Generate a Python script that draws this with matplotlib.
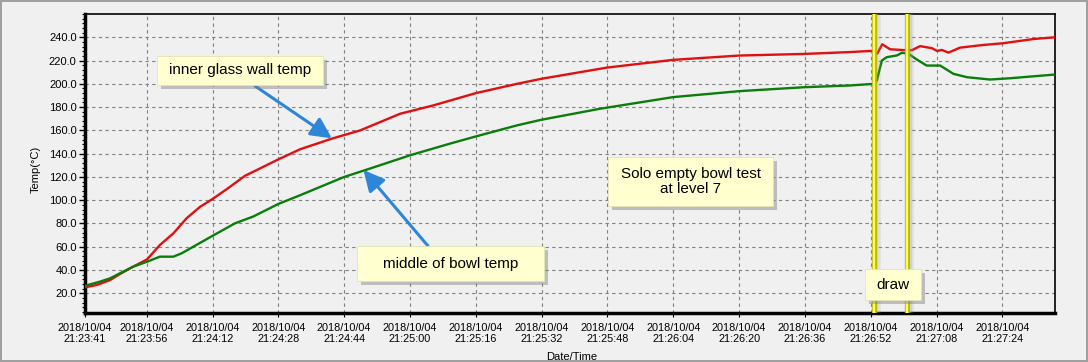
import datetime as dt

import matplotlib
matplotlib.use("Agg")
import matplotlib.pyplot as plt
import matplotlib.patheffects as pe
from matplotlib.patches import Rectangle, FancyArrowPatch
from matplotlib.ticker import FixedLocator, MultipleLocator

plt.rcParams['font.family'] = ['Liberation Sans', 'DejaVu Sans']

# seconds after 2018/10/04 21:23:41
start = dt.datetime(2018, 10, 4, 21, 23, 41)

glass_t = [0.0, 2.8, 6.1, 8.5, 11.7, 15.1, 18.2, 21.5, 24.7, 28.0, 30.9, 34.5, 38.9,
           43.4, 47.0, 52.3, 60.0, 66.9, 76.6, 84.6, 95.0, 105.0, 110.9, 122.8, 127.0,
           143.0, 159.0, 174.9, 186.0, 191.3, 192.6, 193.8, 195.7, 199.4, 201.0, 203.0,
           205.9, 207.1, 208.3, 209.9, 212.7, 218.4, 223.0, 230.6, 235.8]
glass_temp = [25.2, 27.1, 31.4, 36.6, 42.9, 49.2, 61.5, 71.6, 84.5, 94.4, 100.8, 109.6,
              121.0, 128.8, 135.1, 143.8, 152.9, 160.0, 174.3, 181.4, 192.0, 200.0, 204.3,
              211.5, 214.0, 220.6, 224.3, 225.7, 227.3, 228.3, 226.0, 234.0, 229.7, 228.9,
              228.9, 232.4, 230.6, 228.3, 229.1, 226.8, 231.1, 233.4, 234.8, 238.5, 240.0]

bowl_t = [0.0, 3.6, 6.1, 8.5, 11.7, 15.1, 18.2, 21.5, 23.5, 26.3, 30.9, 36.5, 40.9,
          47.0, 52.3, 63.0, 68.5, 79.0, 88.7, 95.0, 105.0, 110.9, 125.2, 143.0, 159.0,
          174.9, 186.0, 191.8, 192.5, 193.7, 194.9, 197.4, 198.6, 200.2, 202.2, 204.6,
          207.9, 211.1, 214.4, 220.0, 224.9, 235.8]
bowl_temp = [26.5, 30.0, 32.9, 37.2, 42.9, 47.2, 51.5, 51.5, 54.4, 60.0, 69.2, 80.2, 86.0,
             96.8, 104.3, 120.0, 126.3, 138.6, 148.6, 154.8, 164.3, 169.1, 178.6, 188.6,
             193.7, 197.1, 198.6, 200.0, 203.0, 220.0, 222.9, 224.4, 226.7, 225.8, 220.9,
             215.7, 215.7, 208.6, 205.7, 203.7, 204.8, 208.0]

tick_secs = [0, 15, 31, 47, 63, 79, 95, 111, 127, 143, 159, 175, 191, 207, 223]
tick_labels = [(start + dt.timedelta(seconds=s)).strftime('%Y/%m/%d\n%H:%M:%S') for s in tick_secs]
y_ticks = [20, 40, 60, 80, 100, 120, 140, 160, 180, 200, 220, 240]
draw_marks = [191.8, 199.9]

bg = '#f0f0f0'
fig = plt.figure(figsize=(10.88, 3.62), dpi=100, facecolor=bg)
fig.patch.set_edgecolor('#a0a0a0')
fig.patch.set_linewidth(1.5)
ax = fig.add_axes([85 / 1088, 1 - 313 / 362, 970 / 1088, 299 / 362])
ax.set_facecolor(bg)

ax.plot(glass_t, glass_temp, color='#e01010', lw=1.7, zorder=3)
ax.plot(bowl_t, bowl_temp, color='#0a7d0a', lw=1.7, zorder=3)

# yellow cursor lines with a soft shadow
for t in draw_marks:
    ax.axvline(t + 0.5, color='#a0a0a0', lw=7, alpha=0.18, zorder=4)
    ax.axvline(t + 0.3, color='#a0a0a0', lw=4.5, alpha=0.25, zorder=4)
    ax.axvline(t, color='#b8b400', lw=3.4, zorder=5)
    ax.axvline(t, color='#ffff50', lw=1.7, zorder=6)

ax.set_xlim(0, 235.8)
ax.set_ylim(3.1, 260)
ax.xaxis.set_major_locator(FixedLocator(tick_secs))
ax.set_xticklabels(tick_labels, fontsize=7.8)
ax.set_yticks(y_ticks)
ax.set_yticklabels(['%.1f' % v for v in y_ticks], fontsize=8)
ax.yaxis.set_minor_locator(MultipleLocator(4))
ax.tick_params(axis='y', which='major', length=4, width=1, pad=2)
ax.tick_params(axis='y', which='minor', length=2.5, width=0.8)
ax.tick_params(axis='x', which='major', length=3, width=0.8, pad=4)
ax.grid(True, which='major', color='#808080', linestyle=(0, (3, 3)), linewidth=0.8)
ax.set_axisbelow(True)

for side in ['left', 'bottom']:
    ax.spines[side].set_linewidth(2.5)
for side in ['top', 'right']:
    ax.spines[side].set_linewidth(1.2)

ax.set_ylabel('Temp(°C)', fontsize=8)
ax.yaxis.set_label_coords(-0.046, 0.48)
ax.set_xlabel('Date/Time', fontsize=8)
ax.xaxis.set_label_coords(0.502, -0.13)

shadow = [pe.SimplePatchShadow(offset=(3, -3), shadow_rgbFace='#808080', alpha=0.45), pe.Normal()]
notes = [
    ('inner glass wall temp', 17.5, 199.0, 40.4, 25.0),
    ('middle of bowl temp', 66.1, 30.6, 45.5, 30.0),
    ('Solo empty bowl test\nat level 7', 127.2, 95.0, 40.1, 42.1),
    ('draw', 189.6, 14.2, 13.7, 26.7),
]
for text, x0, y0, w, h in notes:
    r = Rectangle((x0, y0), w, h, facecolor='#ffffcf', edgecolor='#e4e4b8', lw=0.6,
                  zorder=8, path_effects=shadow)
    ax.add_patch(r)
    ax.text(x0 + w / 2, y0 + h / 2, text, ha='center', va='center', fontsize=11,
            zorder=9, linespacing=1.1)

arrows = [((41.3, 198.2), (60.0, 153.2)), ((83.4, 60.6), (67.7, 126.0))]
for tail, head in arrows:
    a = FancyArrowPatch(tail, head, arrowstyle='-|>,head_length=0.9,head_width=0.45',
                        mutation_scale=14, color='#2d86d8', lw=2.2, zorder=7,
                        shrinkA=0, shrinkB=0)
    ax.add_patch(a)

fig.savefig('out.png', dpi=100, facecolor=bg, edgecolor=fig.get_edgecolor())
